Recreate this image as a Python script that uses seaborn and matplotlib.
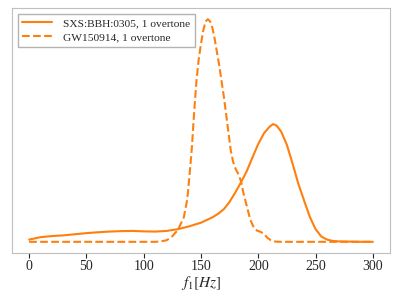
import pandas as pd
import matplotlib
matplotlib.use("Agg")
import matplotlib.pyplot as plt
import seaborn as sns

# SXS:BBH:0305 posterior of f1 (solid)
f_sxs = [0, 10, 20, 30, 40, 50, 60, 70, 80, 90, 100, 110, 120, 130, 140, 150,
         160, 165, 170, 175, 180, 185, 190, 195, 200, 205, 210, 213, 216, 220,
         225, 230, 235, 240, 245, 250, 255, 260, 265, 270, 280, 290, 300]
dens_sxs = [0.010, 0.021, 0.026, 0.029, 0.034, 0.039, 0.043, 0.046, 0.048, 0.049,
            0.047, 0.046, 0.049, 0.057, 0.070, 0.086, 0.110, 0.126, 0.147, 0.180,
            0.222, 0.268, 0.318, 0.380, 0.440, 0.488, 0.518, 0.529, 0.522, 0.495,
            0.435, 0.350, 0.260, 0.185, 0.112, 0.057, 0.024, 0.010, 0.004, 0.002,
            0.001, 0.0, 0.0]

# GW150914 posterior of f1 (dashed)
f_gw = [0, 50, 100, 110, 115, 120, 125, 130, 135, 138, 140, 142, 144, 146, 148,
        150, 152, 154, 156, 158, 160, 162, 164, 166, 168, 170, 172, 174, 176,
        178, 180, 183, 185, 187, 190, 193, 196, 199, 202, 205, 208, 211, 215,
        220, 250, 300]
dens_gw = [0.0, 0.0, 0.0, 0.0, 0.002, 0.007, 0.025, 0.055, 0.11, 0.19, 0.30,
           0.42, 0.58, 0.72, 0.82, 0.89, 0.95, 0.99, 1.0, 0.99, 0.96, 0.91,
           0.85, 0.79, 0.72, 0.65, 0.57, 0.49, 0.41, 0.36, 0.33, 0.30, 0.27,
           0.22, 0.16, 0.10, 0.065, 0.05, 0.045, 0.035, 0.018, 0.007, 0.001,
           0.0, 0.0, 0.0]

labels = ["SXS:BBH:0305, 1 overtone", "GW150914, 1 overtone"]

df = pd.concat([
    pd.DataFrame({"f1": f_sxs, "density": dens_sxs, "run": labels[0]}),
    pd.DataFrame({"f1": f_gw, "density": dens_gw, "run": labels[1]}),
])

sns.set_style("white", {"axes.edgecolor": "0.75", "xtick.bottom": True})
plt.rcParams["font.family"] = ["Liberation Serif", "DejaVu Serif"]
plt.rcParams["mathtext.fontset"] = "stix"

fig = plt.figure(figsize=(3.98, 2.99), dpi=100)
ax = fig.add_axes([0.030, 0.154, 0.950, 0.819])

sns.lineplot(data=df, x="f1", y="density", style="run", color="#ff7f0e",
             dashes={labels[0]: "", labels[1]: (3.7, 1.6)}, linewidth=1.5,
             ax=ax, legend=True)

ax.set_xticks([0, 50, 100, 150, 200, 250, 300])
ax.set_yticks([])
ax.set_ylabel("")
ax.set_xlabel(r"$f_1 [Hz]$", fontsize=11, labelpad=1)
ax.tick_params(axis="x", labelsize=10, length=3.5, width=0.8, color="0.15", pad=1.5)
ax.legend(loc="upper left", fontsize=8.2, fancybox=False, edgecolor="0.7",
          framealpha=1, handlelength=2.6, handletextpad=1.0, labelspacing=0.35)

fig.savefig("out.png", dpi=100)
